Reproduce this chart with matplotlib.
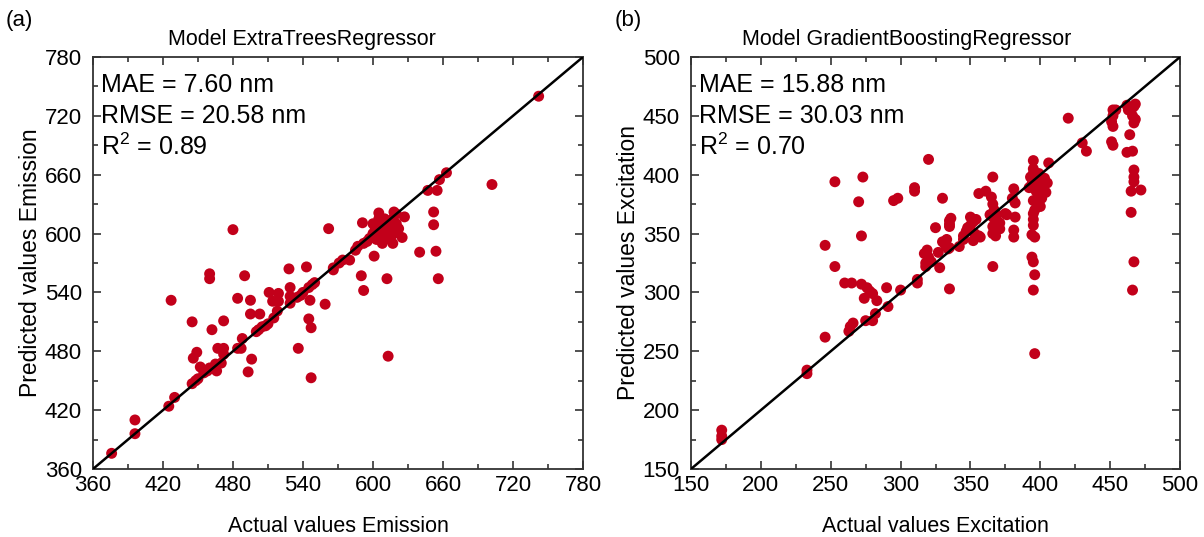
import matplotlib
matplotlib.use("Agg")
import matplotlib.pyplot as plt
from matplotlib.ticker import MultipleLocator, AutoMinorLocator

plt.rcParams['font.family'] = ['Liberation Sans', 'DejaVu Sans']
plt.rcParams['mathtext.fontset'] = 'custom'
plt.rcParams['mathtext.rm'] = 'Liberation Sans'

# panel (a): ExtraTreesRegressor, emission
em_actual = [376, 396, 396, 425, 430, 427, 445, 445, 446, 449, 452,
             450, 455, 460, 465, 448, 458,
             460, 460, 462, 472, 466, 470, 467, 472, 472,
             480, 484, 490, 495, 495, 503, 488, 487, 484, 496, 493,
             500, 505, 510, 515, 502, 508,
             511, 514, 519, 519, 518,
             528, 529, 529, 529,
             535, 540, 545, 550, 538, 548,
             543, 546, 545, 547, 536, 547,
             559, 562, 566, 571,
             574, 580, 566, 585, 587, 592, 595, 597,
             590, 592, 601, 605, 591, 612, 613, 617, 625, 627,
             600, 602, 604, 606, 608, 610, 612, 614, 615, 617, 618, 620, 622,
             620, 610, 605, 615, 612, 608, 618, 603, 600,
             640, 652, 652, 654, 656,
             647, 655, 657, 663, 702, 742]
em_pred = [376, 396, 410, 424, 433, 532, 510, 447, 473, 479, 464,
           452, 458, 463, 467, 450, 460,
           559, 554, 502, 511, 460, 468, 483, 483, 477,
           604, 534, 557, 532, 518, 518, 493, 483, 483, 472, 459,
           500, 505, 508, 514, 502, 506,
           540, 531, 539, 531, 521,
           564, 545, 536, 529,
           535, 540, 545, 550, 537, 548,
           566, 532, 513, 504, 483, 453,
           528, 605, 563, 570,
           573, 573, 565, 583, 587, 590, 592, 595,
           557, 542, 577, 621, 611, 554, 475, 590, 596, 617,
           600, 605, 598, 610, 603, 608, 600, 612, 605, 615, 600, 610, 605,
           620, 615, 615, 595, 595, 590, 622, 594, 610,
           581, 622, 609, 582, 554,
           644, 644, 655, 662, 650, 740]

# panel (b): GradientBoostingRegressor, excitation
ex_actual = [172, 172, 172,
             233, 233,
             246, 246, 253, 253,
             260, 265, 272, 276, 278, 280, 274, 283, 290, 291, 300,
             282, 275, 280, 263, 264, 266,
             270, 272, 273, 295, 298,
             310, 310, 312, 312,
             317, 318, 318, 319, 320, 327, 328, 322,
             320, 325, 330, 335,
             330, 332, 335, 334, 333,
             335, 335, 335, 336,
             342, 345, 347, 350, 352, 354, 348, 353, 356, 345, 350, 357, 352,
             356, 361, 366, 366,
             365, 366, 367, 366, 368, 366, 366, 371, 369, 376, 375, 381, 382,
             381, 381, 380, 382, 371, 368, 364,
             395, 395, 395, 400, 405, 406, 393, 396, 398, 402, 394, 397, 399,
             401, 395, 398, 400, 396, 403, 392, 399, 404,
             395, 395, 395, 394, 396, 394, 395, 396, 395, 396,
             420, 430, 433,
             452, 452, 454, 451, 452, 452, 451,
             462, 463, 465, 467, 468, 466, 468, 467, 464, 462, 466, 467, 467,
             467, 465, 472, 465, 467, 466]
ex_pred = [183, 178, 175,
           234, 231,
           262, 340, 322, 394,
           308, 308, 307, 304, 301, 299, 295, 293, 304, 288, 302,
           282, 276, 276, 267, 271, 274,
           377, 348, 398, 378, 380,
           389, 386, 311, 308,
           333, 325, 322, 336, 330, 334, 321, 326,
           413, 355, 380, 303,
           343, 340, 338, 337, 345,
           361, 358, 356, 363,
           339, 348, 352, 357, 360, 362, 355, 350, 348, 345, 364, 347, 344,
           384, 386, 398, 322,
           381, 375, 370, 364, 360, 356, 350, 359, 366, 366, 367, 388, 376,
           353, 347, 380, 364, 354, 348, 366,
           412, 405, 401, 393, 393, 410, 398, 395, 390, 388, 392, 386, 383,
           380, 378, 376, 373, 370, 397, 389, 401, 385,
           367, 362, 357, 349, 347, 330, 326, 315, 302, 248,
           448, 427, 420,
           455, 450, 455, 445, 441, 425, 428,
           459, 455, 455, 458, 460, 450, 447, 444, 434, 419, 420, 404, 398,
           394, 386, 387, 368, 326, 302]

red = '#C2001A'

fig = plt.figure(figsize=(12.04, 5.37), dpi=100)
ax1 = fig.add_axes([0.0772, 0.1266, 0.407, 0.7673])
ax2 = fig.add_axes([0.5739, 0.1266, 0.4062, 0.7673])


def draw_panel(ax, actual, pred, lo, hi, step, title, title_x, name, stats):
    ax.scatter(actual, pred, s=62, color=red, edgecolors='none', zorder=2)
    ax.plot([lo, hi], [lo, hi], color='black', lw=1.8, zorder=3)
    ax.set_xlim(lo, hi)
    ax.set_ylim(lo, hi)
    ax.xaxis.set_major_locator(MultipleLocator(step))
    ax.yaxis.set_major_locator(MultipleLocator(step))
    ax.xaxis.set_minor_locator(AutoMinorLocator(2))
    ax.yaxis.set_minor_locator(AutoMinorLocator(2))
    ax.tick_params(which='both', direction='in', top=True, right=True,
                   labelsize=16, width=1.2, color='#333333')
    ax.tick_params(which='major', length=6)
    ax.tick_params(which='minor', length=3.5)
    ax.tick_params(axis='x', which='major', pad=4)
    ax.tick_params(axis='y', which='major', pad=8)
    for sp in ax.spines.values():
        sp.set_linewidth(1.3)
        sp.set_color('#333333')
    ax.set_xlabel('Actual values ' + name, fontsize=15.5, labelpad=15)
    ax.set_ylabel('Predicted values ' + name, fontsize=16.5, labelpad=2)
    ax.text(title_x, 1.042, title, transform=ax.transAxes, ha='center',
            va='center', fontsize=15.5)
    for i, s in enumerate(stats):
        ax.text(0.017, 0.932 - i * 0.075, s, transform=ax.transAxes,
                ha='left', va='center', fontsize=18)


draw_panel(ax1, em_actual, em_pred, 360, 780, 60,
           'Model ExtraTreesRegressor', 0.427, 'Emission',
           ['MAE = 7.60 nm', 'RMSE = 20.58 nm', 'R$^2$ = 0.89'])
draw_panel(ax2, ex_actual, ex_pred, 150, 500, 50,
           'Model GradientBoostingRegressor', 0.442, 'Excitation',
           ['MAE = 15.88 nm', 'RMSE = 30.03 nm', 'R$^2$ = 0.70'])

fig.text(0.016, 0.962, '(a)', fontsize=16, ha='center', va='center')
fig.text(0.5216, 0.962, '(b)', fontsize=16, ha='center', va='center')

fig.savefig('out.png', dpi=100)
